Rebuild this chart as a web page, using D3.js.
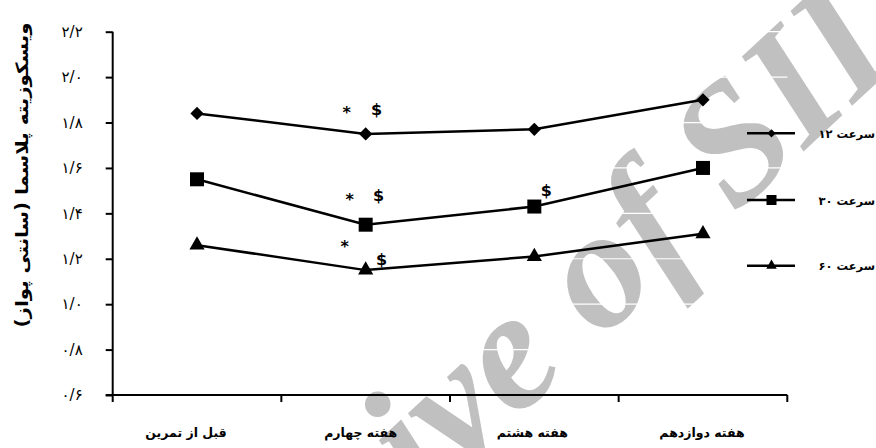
<!DOCTYPE html>
<html>
<head>
<meta charset="utf-8">
<script src="https://cdn.jsdelivr.net/npm/d3@7/dist/d3.min.js"></script>
<style>
  html, body { margin: 0; padding: 0; background: #fff; }
  svg { display: block; }
</style>
</head>
<body>
<svg id="chart" width="876" height="448"></svg>
<script>
// Plasma viscosity (centipoise) over the training period, at three viscometer speeds
const categories = ["قبل از تمرین", "هفته چهارم", "هفته هشتم", "هفته دوازدهم"];
const seriesNames = ["سرعت ۱۲", "سرعت ۳۰", "سرعت ۶۰"];
const speed12 = [1.84, 1.75, 1.77, 1.90];
const speed30 = [1.55, 1.35, 1.43, 1.60];
const speed60 = [1.26, 1.15, 1.21, 1.31];
const yTicks = [0.6, 0.8, 1.0, 1.2, 1.4, 1.6, 1.8, 2.0, 2.2];
const yTitle = "ویسکوزیته پلاسما (سانتی پواز)";
// significance marks: series index, category index, symbol
const notes = [
  [0, 1, "*"], [0, 1, "$"],
  [1, 1, "*"], [1, 1, "$"],
  [2, 1, "*"], [2, 1, "$"],
  [1, 2, "$"]
];
const watermark = "Archive of SID";

const seriesValues = [speed12, speed30, speed60];
// diamond = square turned by 45 degrees
const markerKinds = [d3.symbolSquare, d3.symbolSquare, d3.symbolTriangle];
const markerTurn = [45, 0, 0];
const markerSizes = [88, 196, 100];
const legendSizes = [34, 100, 48];

const svg = d3.select("#chart");
const plotLeft = 112.7, plotRight = 787.3, plotTop = 31.7, plotBottom = 395;
const AR = "'DejaVu Sans', 'Noto Sans', sans-serif";

const x = d3.scaleBand().domain(categories).range([plotLeft, plotRight]).padding(0);
const y = d3.scaleLinear().domain([0.6, 2.2]).range([plotBottom, plotTop]);
const cx = c => x(c) + x.bandwidth() / 2;

const faDigits = "۰۱۲۳۴۵۶۷۸۹";
const toFa = s => s.replace(/[0-9]/g, d => faDigits[+d]);
const fmt = v => toFa(d3.format(".1f")(v).replace(".", "/"));

// background watermark
svg.append("text")
  .attr("transform", "translate(556,382) rotate(-43)")
  .attr("text-anchor", "middle")
  .attr("font-family", "'Liberation Serif', 'DejaVu Serif', serif")
  .attr("font-style", "italic")
  .attr("font-weight", "bold")
  .attr("font-size", 170)
  .attr("fill", "#c0c0c0")
  .text(watermark);

// white gridlines
svg.append("g")
  .selectAll("line")
  .data(yTicks)
  .join("line")
  .attr("x1", plotLeft).attr("x2", plotRight)
  .attr("y1", d => y(d)).attr("y2", d => y(d))
  .attr("stroke", "#fff").attr("stroke-width", 1.2);

// y axis
const yAxis = svg.append("g")
  .attr("transform", `translate(${plotLeft},0)`)
  .call(d3.axisLeft(y).tickValues(yTicks).tickSize(7).tickPadding(23).tickFormat(fmt));
yAxis.select(".domain").remove();
yAxis.selectAll(".tick line").attr("stroke", "#000").attr("stroke-width", 2);
yAxis.selectAll(".tick text")
  .attr("font-family", AR).attr("font-size", 15).attr("fill", "#000")
  .attr("direction", "ltr");
svg.append("path")
  .attr("d", `M${plotLeft},${y(yTicks[yTicks.length - 1])}V${y(yTicks[0]) + 1}`)
  .attr("fill", "none")
  .attr("stroke", "#000").attr("stroke-width", 2);

// x axis: baseline with ticks on band edges
const xAxis = svg.append("g").attr("transform", `translate(0,${plotBottom})`);
xAxis.append("line")
  .attr("x1", plotLeft - 7).attr("x2", plotRight)
  .attr("stroke", "#000").attr("stroke-width", 2);
const edges = categories.map(c => x(c)).concat([plotRight]);
xAxis.selectAll("line.edge")
  .data(edges)
  .join("line")
  .attr("class", "edge")
  .attr("x1", d => d).attr("x2", d => d)
  .attr("y1", 0).attr("y2", 7)
  .attr("stroke", "#000").attr("stroke-width", 2);
const labelShift = [-11, -5, -2, -1];
xAxis.selectAll("text")
  .data(categories)
  .join("text")
  .attr("x", (d, i) => cx(d) + labelShift[i])
  .attr("y", 42)
  .attr("text-anchor", "middle")
  .attr("font-family", AR).attr("font-weight", "bold").attr("font-size", 12.5)
  .attr("fill", "#000")
  .text(d => d);

// y title
svg.append("text")
  .attr("transform", "translate(28,175) rotate(-90)")
  .attr("text-anchor", "middle")
  .attr("font-family", AR).attr("font-weight", "bold").attr("font-size", 17)
  .attr("textLength", 305).attr("lengthAdjust", "spacingAndGlyphs")
  .attr("fill", "#000")
  .text(yTitle);

// series lines and markers
const line = d3.line().x((d, i) => cx(categories[i])).y(d => y(d));
seriesValues.forEach((vals, s) => {
  const g = svg.append("g");
  g.append("path")
    .attr("d", line(vals))
    .attr("fill", "none").attr("stroke", "#000").attr("stroke-width", 2.5);
  g.selectAll("path.m")
    .data(vals)
    .join("path")
    .attr("class", "m")
    .attr("transform", (d, i) => `translate(${cx(categories[i])},${y(d)}) rotate(${markerTurn[s]})`)
    .attr("d", d3.symbol().type(markerKinds[s]).size(markerSizes[s]))
    .attr("fill", "#000");
});

// significance marks near their points
const notePlacement = {
  "0,1,*": [-19, -16], "0,1,$": [11, -19],
  "1,1,*": [-16, -20], "1,1,$": [13, -24],
  "2,1,*": [-21, -18], "2,1,$": [16, -5],
  "1,2,$": [12, -11]
};
svg.append("g")
  .selectAll("text")
  .data(notes)
  .join("text")
  .attr("x", d => cx(categories[d[1]]) + notePlacement[d.join(",")][0])
  .attr("y", d => y(seriesValues[d[0]][d[1]]) + notePlacement[d.join(",")][1])
  .attr("text-anchor", "middle")
  .attr("font-family", AR).attr("font-weight", "bold")
  .attr("font-size", 16)
  .attr("fill", "#000")
  .text(d => d[2]);

// legend
const legendY = [133.3, 200, 265.7];
const lg = svg.append("g");
seriesNames.forEach((name, s) => {
  lg.append("line")
    .attr("x1", 747).attr("x2", 795)
    .attr("y1", legendY[s]).attr("y2", legendY[s])
    .attr("stroke", "#000").attr("stroke-width", 2.5);
  lg.append("path")
    .attr("transform", `translate(771.5,${legendY[s]}) rotate(${markerTurn[s]})`)
    .attr("d", d3.symbol().type(markerKinds[s]).size(legendSizes[s]))
    .attr("fill", "#000");
  lg.append("text")
    .attr("x", 875).attr("y", legendY[s] + 4.5)
    .attr("text-anchor", "end")
    .attr("font-family", AR).attr("font-weight", "bold").attr("font-size", 11.5)
    .attr("fill", "#000")
    .text(name);
});
</script>
</body>
</html>
